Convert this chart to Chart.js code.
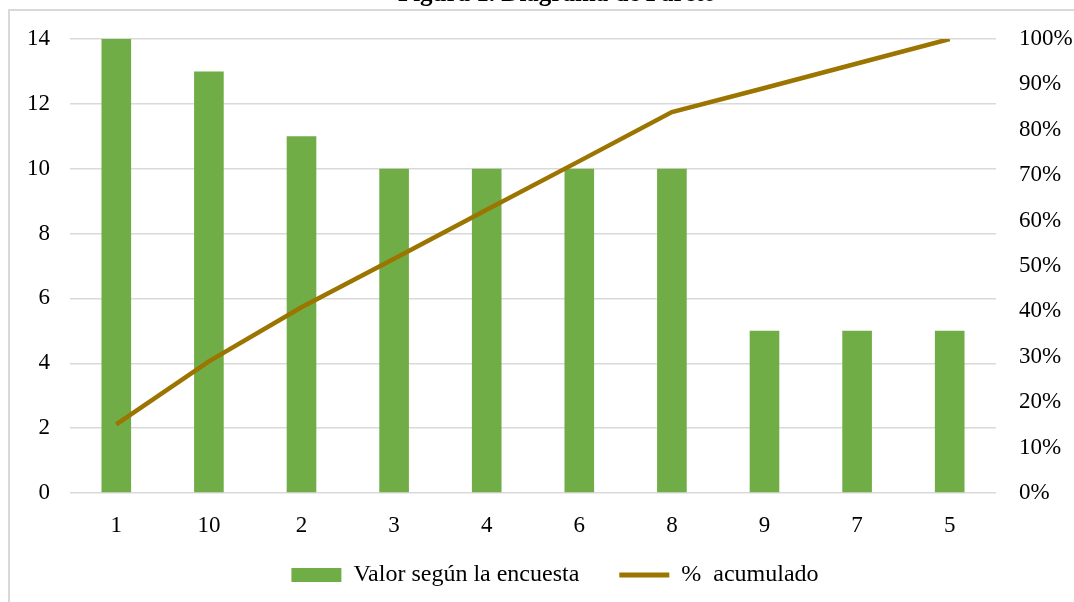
<!DOCTYPE html>
<html>
<head>
<meta charset="utf-8">
<script src="https://cdn.jsdelivr.net/npm/chart.js@4/dist/chart.umd.min.js"></script>
<style>
  html, body { margin: 0; padding: 0; background: #ffffff; }
  #wrap { position: relative; width: 1074px; height: 602px; overflow: hidden; }
  #frame { position: absolute; left: 8px; top: 9px; width: 1100px; height: 700px;
           border-left: 2px solid #d9d9d9; border-top: 2px solid #d9d9d9; box-sizing: border-box; }
  canvas { position: absolute; left: 0; top: 0; }
</style>
</head>
<body>
<div id="wrap">
  <div id="frame"></div>
  <canvas id="c" width="1074" height="602"></canvas>
</div>
<script>
const titleText = "Figura 1. Diagrama de Pareto";
const categories = ["1", "10", "2", "3", "4", "6", "8", "9", "7", "5"];
const surveyValues = [14, 13, 11, 10, 10, 10, 10, 5, 5, 5];
const cumulativePct = [0.151, 0.290, 0.409, 0.516, 0.624, 0.731, 0.839, 0.892, 0.946, 1.0];
const seriesNames = ["Valor según la encuesta", "%  acumulado"];

const FONT = "'Liberation Serif', 'Times New Roman', serif";
const LINE_COLOR = '#9c7400';
const BAR_COLOR = '#70ad47';

const titlePlugin = {
  id: 'cutTitle',
  beforeDraw(chart) {
    const lg = chart.legend;
    if (lg) {
      if (lg._base === undefined) lg._base = { l: lg.left, r: lg.right, t: lg.top, b: lg.bottom };
      lg.left = lg._base.l + 18;
      lg.right = lg._base.r + 18;
      lg.top = lg._base.t - 20;
      lg.bottom = lg._base.b - 20;
    }
  },
  afterDraw(chart) {
    const ctx = chart.ctx;
    ctx.save();
    ctx.font = "bold 25px " + FONT;
    ctx.fillStyle = "#000";
    ctx.textAlign = "center";
    ctx.textBaseline = "alphabetic";
    ctx.fillText(titleText, 557, 1);
    ctx.restore();
  }
};

new Chart(document.getElementById('c'), {
  data: {
    labels: categories,
    datasets: [
      {
        type: 'bar',
        label: seriesNames[0],
        data: surveyValues,
        backgroundColor: BAR_COLOR,
        borderWidth: 0,
        barPercentage: 0.32,
        categoryPercentage: 1.0,
        yAxisID: 'y',
        order: 2
      },
      {
        type: 'line',
        label: seriesNames[1],
        data: cumulativePct,
        borderColor: LINE_COLOR,
        backgroundColor: LINE_COLOR,
        borderWidth: 4.5,
        pointRadius: 0,
        tension: 0,
        yAxisID: 'y2',
        order: 1
      }
    ]
  },
  options: {
    responsive: false,
    animation: false,
    layout: { padding: { top: 39, bottom: -15, left: 0, right: 0 } },
    plugins: {
      title: { display: false },
      tooltip: { enabled: false },
      legend: {
        position: 'bottom',
        labels: {
          usePointStyle: true,
          pointStyleWidth: 50,
          boxHeight: 14,
          padding: 40,
          color: '#000',
          font: { family: FONT, size: 24 },
          generateLabels(chart) {
            const items = Chart.defaults.plugins.legend.labels.generateLabels(chart);
            items.sort((a, b) => a.datasetIndex - b.datasetIndex);
            items.forEach((it) => {
              if (it.datasetIndex === 0) {
                it.pointStyle = 'rect'; it.lineWidth = 0;
                it.fillStyle = BAR_COLOR; it.strokeStyle = BAR_COLOR;
              } else {
                it.pointStyle = 'line'; it.lineWidth = 5;
                it.strokeStyle = LINE_COLOR; it.fillStyle = LINE_COLOR;
              }
            });
            return items;
          }
        }
      }
    },
    scales: {
      x: {
        grid: { display: false, drawTicks: false },
        border: { display: false },
        ticks: { color: '#000', font: { family: FONT, size: 23 }, padding: 19 },
        afterFit(s) { s.height = 50; }
      },
      y: {
        position: 'left',
        min: 0, max: 14,
        ticks: { stepSize: 2, color: '#000', font: { family: FONT, size: 23 }, padding: 20 },
        grid: { color: '#d9d9d9', lineWidth: 1.5, drawTicks: false },
        border: { display: false },
        afterFit(s) { s.width = 70; }
      },
      y2: {
        position: 'right',
        min: 0, max: 1,
        ticks: {
          stepSize: 0.1, color: '#000', font: { family: FONT, size: 23 }, padding: 23,
          callback: v => Math.round(v * 100) + '%'
        },
        grid: { display: false, drawTicks: false },
        border: { display: false },
        afterFit(s) { s.width = 78; }
      }
    }
  },
  plugins: [titlePlugin]
});
</script>
</body>
</html>
